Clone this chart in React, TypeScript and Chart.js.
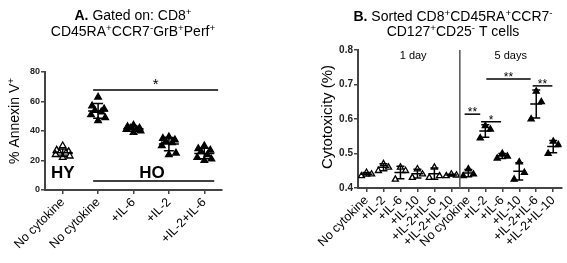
import React, { useEffect, useRef } from "react";
import { Chart, registerables } from "chart.js";
Chart.register(...registerables);

const FONT = "'Liberation Sans', Arial, Helvetica, sans-serif";

// ---------- Panel A data ----------
const categoriesA = ["No cytokine", "No cytokine", "+IL-6", "+IL-2", "+IL-2+IL-6"];
const hyNoCytokine = [30, 27, 26, 25, 25, 24, 23, 22];
const hoNoCytokine = [63, 57, 55, 54, 53, 51, 49, 47];
const hoIL6 = [44, 43, 42, 42, 41, 41, 40, 39];
const hoIL2 = [36, 35, 34, 33, 32, 30, 25, 24];
const hoIL2IL6 = [30, 28, 27, 26, 24, 22, 21, 20];
const seriesA = [hyNoCytokine, hoNoCytokine, hoIL6, hoIL2, hoIL2IL6];
const openA = [true, false, false, false, false];
const yTicksA = [0, 20, 40, 60, 80];
const sigA = [{ from: 0.86, to: 4.39, y: 67.8, label: "*" }];

// ---------- Panel B data ----------
const categoriesB = [
  "No cytokine", "+IL-2", "+IL-6", "+IL-10", "+IL-2+IL-6", "+IL-2+IL-10",
  "No cytokine", "+IL-2", "+IL-6", "+IL-10", "+IL-2+IL-6", "+IL-2+IL-10",
];
const day1NoCytokine = [0.445, 0.44, 0.435];
const day1IL2 = [0.47, 0.46, 0.45];
const day1IL6 = [0.46, 0.45, 0.425];
const day1IL10 = [0.455, 0.44, 0.43];
const day1IL2IL6 = [0.46, 0.435, 0.43];
const day1IL2IL10 = [0.44, 0.437, 0.435];
const day5NoCytokine = [0.455, 0.44, 0.435];
const day5IL2 = [0.58, 0.57, 0.545];
const day5IL6 = [0.5, 0.492, 0.486];
const day5IL10 = [0.475, 0.445, 0.425];
const day5IL2IL6 = [0.68, 0.65, 0.6];
const day5IL2IL10 = [0.535, 0.525, 0.5];
const seriesB = [
  day1NoCytokine, day1IL2, day1IL6, day1IL10, day1IL2IL6, day1IL2IL10,
  day5NoCytokine, day5IL2, day5IL6, day5IL10, day5IL2IL6, day5IL2IL10,
];
const openB = [true, true, true, true, true, true, false, false, false, false, false, false];
const yTicksB = [0.4, 0.5, 0.6, 0.7, 0.8];
const sigB = [
  { from: 5.78, to: 6.7, y: 0.614, label: "**" },
  { from: 6.75, to: 7.93, y: 0.592, label: "*" },
  { from: 7.06, to: 9.67, y: 0.716, label: "**" },
  { from: 9.79, to: 10.95, y: 0.696, label: "**" },
];
const dayLabels = [
  { x: 2.75, y: 0.774, text: "1 day" },
  { x: 8.5, y: 0.774, text: "5 days" },
];

type Seg = { t: string; b?: boolean; sup?: boolean };

function drawRich(ctx: CanvasRenderingContext2D, line: Seg[], cx: number, baseline: number, size: number) {
  const parts = line.map((s) => {
    const sz = s.sup ? size * 0.7 : size;
    const f = `${s.b ? "bold " : ""}${sz}px ${FONT}`;
    ctx.font = f;
    return { s, f, w: ctx.measureText(s.t).width };
  });
  const total = parts.reduce((a, p) => a + p.w, 0);
  let x = cx - total / 2;
  ctx.textAlign = "left";
  ctx.textBaseline = "alphabetic";
  parts.forEach((p) => {
    ctx.font = p.f;
    ctx.fillText(p.s.t, x, baseline - (p.s.sup ? size * 0.35 : 0));
    x += p.w;
  });
}

type Cfg = {
  width: number;
  height: number;
  area: { left: number; top: number; right: number; bottom: number };
  categories: string[];
  series: number[][];
  open: boolean[];
  yMin: number;
  yMax: number;
  yTicks: number[];
  yFmt: (v: number) => string;
  yTickSize: number;
  title: Seg[][];
  titleCx: number;
  titleBaselines: number[];
  yTitle: Seg[];
  yTitleX: number;
  yTitleY: number;
  yTitleSize: number;
  radius: number;
  meanHalf: number;
  capHalf: number;
  jitter: number[];
  sigs: { from: number; to: number; y: number; label: string }[];
  sigSize: number;
  sigOffset: number;
  draw?: (ctx: CanvasRenderingContext2D, xs: any, ys: any) => void;
};

function mean(a: number[]) {
  return a.reduce((s, v) => s + v, 0) / a.length;
}
function sd(a: number[]) {
  const m = mean(a);
  return Math.sqrt(a.reduce((s, v) => s + (v - m) * (v - m), 0) / (a.length - 1));
}

function makeChart(canvas: HTMLCanvasElement, cfg: Cfg) {
  const datasets = cfg.series.map((vals, i) => ({
    label: cfg.categories[i],
    data: vals.map((v, j) => ({ x: i + cfg.jitter[j % cfg.jitter.length], y: v })),
    pointStyle: "triangle",
    pointRadius: cfg.radius,
    pointBorderWidth: 1.3,
    pointBackgroundColor: cfg.open[i] ? "#fff" : "#000",
    pointBorderColor: "#000",
    showLine: false,
  }));
  const plugin = {
    id: "extras",
    afterDatasetsDraw(chart: any) {
      const ctx: CanvasRenderingContext2D = chart.ctx;
      const xs = chart.scales.x;
      const ys = chart.scales.y;
      ctx.save();
      ctx.strokeStyle = "#000";
      ctx.fillStyle = "#000";
      ctx.lineWidth = 1.5;
      cfg.series.forEach((vals, i) => {
        const m = mean(vals);
        const s = sd(vals);
        const cx = xs.getPixelForValue(i);
        const ym = ys.getPixelForValue(m);
        const yt = ys.getPixelForValue(m + s);
        const yb = ys.getPixelForValue(m - s);
        ctx.beginPath();
        ctx.moveTo(cx - cfg.meanHalf, ym);
        ctx.lineTo(cx + cfg.meanHalf, ym);
        ctx.moveTo(cx, yt);
        ctx.lineTo(cx, yb);
        ctx.moveTo(cx - cfg.capHalf, yt);
        ctx.lineTo(cx + cfg.capHalf, yt);
        ctx.moveTo(cx - cfg.capHalf, yb);
        ctx.lineTo(cx + cfg.capHalf, yb);
        ctx.stroke();
      });
      cfg.sigs.forEach((g) => {
        const x1 = xs.getPixelForValue(g.from);
        const x2 = xs.getPixelForValue(g.to);
        const y = ys.getPixelForValue(g.y);
        ctx.lineWidth = 1.5;
        ctx.beginPath();
        ctx.moveTo(x1, y);
        ctx.lineTo(x2, y);
        ctx.stroke();
        ctx.font = `${cfg.sigSize}px ${FONT}`;
        ctx.textAlign = "center";
        ctx.textBaseline = "alphabetic";
        ctx.fillText(g.label, (x1 + x2) / 2, y + cfg.sigOffset);
      });
      if (cfg.draw) cfg.draw(ctx, xs, ys);
      ctx.fillStyle = "#000";
      cfg.title.forEach((line, li) => drawRich(ctx, line, cfg.titleCx, cfg.titleBaselines[li], 14));
      ctx.translate(cfg.yTitleX, cfg.yTitleY);
      ctx.rotate(-Math.PI / 2);
      drawRich(ctx, cfg.yTitle, 0, 0, cfg.yTitleSize);
      ctx.restore();
    },
  };
  const gridOpts = { drawOnChartArea: false, drawTicks: true, tickLength: 4, color: "#444", lineWidth: 1.5 };
  return new Chart(canvas, {
    type: "scatter",
    data: { datasets: datasets as any },
    options: {
      responsive: false,
      animation: false,
      layout: { padding: { left: 0, top: cfg.area.top, right: cfg.width - cfg.area.right, bottom: 0 } },
      plugins: { legend: { display: false }, tooltip: { enabled: false }, title: { display: false } },
      scales: {
        x: {
          type: "linear",
          min: -0.5,
          max: cfg.categories.length - 0.5,
          afterBuildTicks: (s: any) => {
            s.ticks = cfg.categories.map((_, i) => ({ value: i }));
          },
          afterFit: (s: any) => {
            s.height = cfg.height - cfg.area.bottom;
          },
          ticks: {
            callback: (_v: any, i: number) => cfg.categories[i],
            minRotation: 45,
            maxRotation: 45,
            autoSkip: false,
            font: { family: FONT, size: 12.5 },
            color: "#000",
            padding: 1,
          },
          grid: gridOpts,
          border: { color: "#444", width: 2 },
        },
        y: {
          type: "linear",
          min: cfg.yMin,
          max: cfg.yMax,
          afterBuildTicks: (s: any) => {
            s.ticks = cfg.yTicks.map((v) => ({ value: v }));
          },
          afterFit: (s: any) => {
            s.width = cfg.area.left;
          },
          ticks: {
            callback: (v: any) => cfg.yFmt(Number(v)),
            font: { family: FONT, size: cfg.yTickSize, weight: "bold" },
            color: "#222",
            padding: 1,
          },
          grid: gridOpts,
          border: { color: "#444", width: 2 },
        },
      },
    } as any,
    plugins: [plugin],
  });
}

const cfgA: Cfg = {
  width: 290,
  height: 263,
  area: { left: 45, top: 72, right: 222, bottom: 190 },
  categories: categoriesA,
  series: seriesA,
  open: openA,
  yMin: 0,
  yMax: 80,
  yTicks: yTicksA,
  yFmt: (v) => String(v),
  yTickSize: 9,
  title: [
    [{ t: "A.", b: true }, { t: " Gated on: CD8" }, { t: "+", sup: true }],
    [
      { t: "CD45RA" }, { t: "+", sup: true }, { t: "CCR7" }, { t: "-", sup: true },
      { t: "GrB" }, { t: "+", sup: true }, { t: "Perf" }, { t: "+", sup: true },
    ],
  ],
  titleCx: 133,
  titleBaselines: [20, 36],
  yTitle: [{ t: "% Annexin V" }, { t: "+", sup: true }],
  yTitleX: 19,
  yTitleY: 121,
  yTitleSize: 14,
  radius: 3.8,
  meanHalf: 10,
  capHalf: 5,
  jitter: [0, -0.17, 0.17, -0.09, 0.09, -0.2, 0.2, 0],
  sigs: sigA,
  sigSize: 15,
  sigOffset: -1,
  draw: (ctx, xs, ys) => {
    ctx.font = `bold 17px ${FONT}`;
    ctx.textAlign = "center";
    ctx.textBaseline = "alphabetic";
    ctx.fillText("HY", xs.getPixelForValue(0), ys.getPixelForValue(8.1));
    ctx.fillText("HO", xs.getPixelForValue(2.52), ys.getPixelForValue(8.1));
    ctx.lineWidth = 1.5;
    ctx.beginPath();
    ctx.moveTo(xs.getPixelForValue(0.86), ys.getPixelForValue(6.1));
    ctx.lineTo(xs.getPixelForValue(4.28), ys.getPixelForValue(6.1));
    ctx.stroke();
  },
};

const cfgB: Cfg = {
  width: 277,
  height: 263,
  area: { left: 68, top: 50, right: 274, bottom: 188 },
  categories: categoriesB,
  series: seriesB,
  open: openB,
  yMin: 0.4,
  yMax: 0.8,
  yTicks: yTicksB,
  yFmt: (v) => v.toFixed(1),
  yTickSize: 10,
  title: [
    [
      { t: "B.", b: true }, { t: " Sorted CD8" }, { t: "+", sup: true }, { t: "CD45RA" },
      { t: "+", sup: true }, { t: "CCR7" }, { t: "-", sup: true },
    ],
    [{ t: "CD127" }, { t: "+", sup: true }, { t: "CD25" }, { t: "-", sup: true }, { t: " T cells" }],
  ],
  titleCx: 163,
  titleBaselines: [21, 36],
  yTitle: [{ t: "Cytotoxicity (%)" }],
  yTitleX: 42,
  yTitleY: 117,
  yTitleSize: 15,
  radius: 3.5,
  meanHalf: 6,
  capHalf: 4,
  jitter: [0, 0.3, -0.3],
  sigs: sigB,
  sigSize: 12,
  sigOffset: 2,
  draw: (ctx, xs, ys) => {
    ctx.strokeStyle = "#555";
    ctx.lineWidth = 1.5;
    ctx.beginPath();
    ctx.moveTo(xs.getPixelForValue(5.5), ys.getPixelForValue(0.8));
    ctx.lineTo(xs.getPixelForValue(5.5), ys.getPixelForValue(0.4));
    ctx.stroke();
    ctx.fillStyle = "#000";
    ctx.font = `11px ${FONT}`;
    ctx.textAlign = "center";
    ctx.textBaseline = "alphabetic";
    dayLabels.forEach((d) => ctx.fillText(d.text, xs.getPixelForValue(d.x), ys.getPixelForValue(d.y)));
  },
};

function Panel({ cfg, left }: { cfg: Cfg; left: number }) {
  const ref = useRef<HTMLCanvasElement | null>(null);
  useEffect(() => {
    if (!ref.current) return;
    const chart = makeChart(ref.current, cfg);
    return () => chart.destroy();
  }, [cfg]);
  return (
    <canvas
      ref={ref}
      width={cfg.width}
      height={cfg.height}
      style={{ position: "absolute", left, top: 0, width: cfg.width, height: cfg.height }}
    />
  );
}

export default function App() {
  return (
    <div style={{ position: "fixed", left: 0, top: 0, width: 567, height: 263, background: "#fff" }}>
      <Panel cfg={cfgA} left={0} />
      <Panel cfg={cfgB} left={290} />
    </div>
  );
}
